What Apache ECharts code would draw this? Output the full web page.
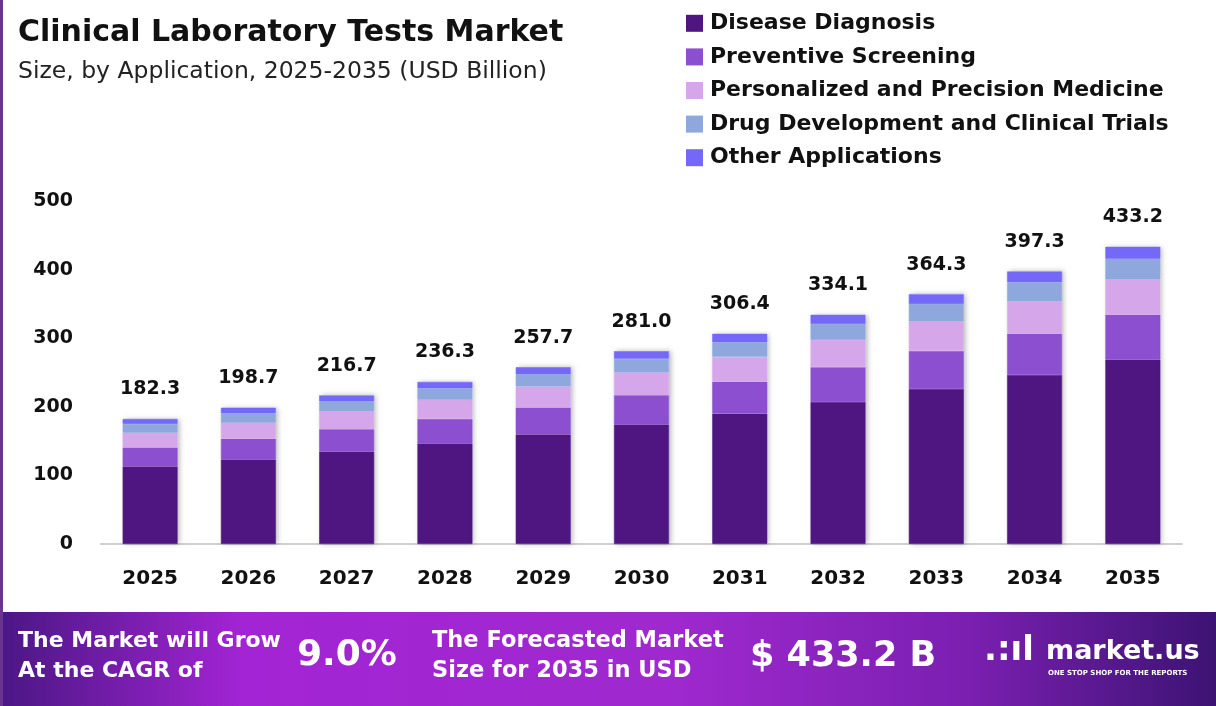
<!DOCTYPE html>
<html>
<head>
<meta charset="utf-8">
<script src="https://cdn.jsdelivr.net/npm/echarts@6/dist/echarts.min.js"></script>
<style>
  html, body { margin: 0; padding: 0; background: #fff; }
  #chart { width: 1216px; height: 706px; }
</style>
</head>
<body>
<div id="chart"></div>
<script>
// data (USD Billion)
var years = ['2025', '2026', '2027', '2028', '2029', '2030', '2031', '2032', '2033', '2034', '2035'];
var totals = [182.3, 198.7, 216.7, 236.3, 257.7, 281.0, 306.4, 334.1, 364.3, 397.3, 433.2];
var diseaseDiagnosis = [113.0, 123.2, 134.4, 146.5, 159.8, 174.2, 190.0, 207.1, 225.9, 246.3, 268.6];
var preventiveScreening = [27.7, 30.2, 32.9, 35.9, 39.2, 42.7, 46.6, 50.8, 55.4, 60.4, 65.8];
var personalizedMedicine = [21.5, 23.4, 25.6, 27.9, 30.4, 33.2, 36.2, 39.4, 43.0, 46.9, 51.1];
var drugDevelopment = [12.8, 13.9, 15.2, 16.5, 18.0, 19.7, 21.4, 23.4, 25.5, 27.8, 30.3];
var otherApplications = [7.3, 8.0, 8.6, 9.5, 10.3, 11.2, 12.2, 13.4, 14.5, 15.9, 17.4];
var yTicks = [0, 100, 200, 300, 400, 500];
var seriesNames = ['Disease Diagnosis', 'Preventive Screening', 'Personalized and Precision Medicine',
  'Drug Development and Clinical Trials', 'Other Applications'];

var FONT = '"DejaVu Sans", Inter, sans-serif';
var myChart = echarts.init(document.getElementById('chart'));

function seg(name, data, color, last) {
  var s = {
    name: name,
    type: 'bar',
    stack: 'total',
    barWidth: 55,
    barGap: '-100%',
    z: 3,
    data: data,
    itemStyle: { color: color, borderColor: color, borderWidth: 0.6 }
  };
  if (last) {
    s.label = {
      show: true,
      position: 'top',
      distance: 20,
      formatter: function (p) { return totals[p.dataIndex].toFixed(1); },
      fontFamily: FONT,
      fontWeight: 700,
      fontSize: 19,
      color: '#111'
    };
  }
  return s;
}

var option = {
  animation: false,
  textStyle: { fontFamily: FONT },
  grid: { left: 101, right: 34, top: 201, bottom: 162 },
  legend: {
    data: seriesNames,
    orient: 'vertical',
    left: 681,
    top: 6,
    icon: 'rect',
    itemWidth: 17,
    itemHeight: 17,
    itemGap: 9,
    itemStyle: { borderWidth: 0 },
    textStyle: { fontFamily: FONT, fontSize: 22, fontWeight: 600, color: '#111', lineHeight: 24.6, padding: [0, 0, 0, 2] }
  },
  xAxis: {
    type: 'category',
    data: years,
    axisTick: { show: false },
    axisLine: { lineStyle: { color: '#cfcfcf', width: 2 } },
    axisLabel: { margin: 25, fontFamily: FONT, fontWeight: 700, fontSize: 20, color: '#111' }
  },
  yAxis: {
    type: 'value',
    min: yTicks[0],
    max: yTicks[yTicks.length - 1],
    interval: 100,
    splitLine: { show: false },
    axisLabel: { margin: 28, fontFamily: FONT, fontWeight: 700, fontSize: 19, color: '#111' }
  },
  series: [
    // shadow behind each whole bar
    {
      name: 'shadow',
      type: 'bar',
      barWidth: 55,
      z: 1,
      silent: true,
      data: totals,
      itemStyle: { color: '#ffffff', shadowBlur: 5, shadowColor: 'rgba(0,0,0,0.28)', shadowOffsetX: 2 }
    },
    seg(seriesNames[0], diseaseDiagnosis, '#4f1681'),
    seg(seriesNames[1], preventiveScreening, '#8b4fcf'),
    seg(seriesNames[2], personalizedMedicine, '#d5a6ea'),
    seg(seriesNames[3], drugDevelopment, '#8ea8dd'),
    seg(seriesNames[4], otherApplications, '#7368f7', true)
  ],
  graphic: [
    { type: 'rect', left: 0, top: 0, shape: { width: 3, height: 706 }, style: { fill: '#6a3590' }, z: 10 },
    { type: 'text', left: 18, top: 18, style: { text: 'Clinical Laboratory Tests Market', font: '700 30px ' + FONT, fill: '#111' } },
    { type: 'text', left: 18, top: 60, style: { text: 'Size, by Application, 2025-2035 (USD Billion)', font: '400 23.5px ' + FONT, fill: '#222' } },
    {
      type: 'rect', left: 0, top: 612, shape: { width: 1216, height: 94 },
      style: {
        fill: new echarts.graphic.LinearGradient(0, 0, 1, 0, [
          { offset: 0, color: '#4a1784' },
          { offset: 0.2, color: '#a324d4' },
          { offset: 0.55, color: '#9f29cf' },
          { offset: 0.8, color: '#7a1fb0' },
          { offset: 1, color: '#3c1373' }
        ])
      }
    },
    { type: 'text', left: 18, top: 630, style: { text: 'The Market will Grow', font: '700 22px ' + FONT, fill: '#fff' } },
    { type: 'text', left: 18, top: 660, style: { text: 'At the CAGR of', font: '700 22px ' + FONT, fill: '#fff' } },
    { type: 'text', left: 297, top: 638, style: { text: '9.0%', font: '700 36px ' + FONT, fill: '#fff' } },
    { type: 'text', left: 432, top: 630, style: { text: 'The Forecasted Market', font: '700 22.5px ' + FONT, fill: '#fff' } },
    { type: 'text', left: 432, top: 660, style: { text: 'Size for 2035 in USD', font: '700 22.5px ' + FONT, fill: '#fff' } },
    { type: 'text', left: 750, top: 639, style: { text: '$ 433.2 B', font: '700 35px ' + FONT, fill: '#fff' } },
    { type: 'text', left: 984, top: 634, style: { text: '.:ıl', font: '900 34px ' + FONT, fill: '#fff' } },
    { type: 'text', left: 1046, top: 638, style: { text: 'market.us', font: '700 27px ' + FONT, fill: '#fff' } },
    { type: 'text', left: 1048, top: 670, style: { text: 'ONE STOP SHOP FOR THE REPORTS', font: '700 7px ' + FONT, fill: '#fff' } }
  ]
};

myChart.setOption(option);
</script>
</body>
</html>
